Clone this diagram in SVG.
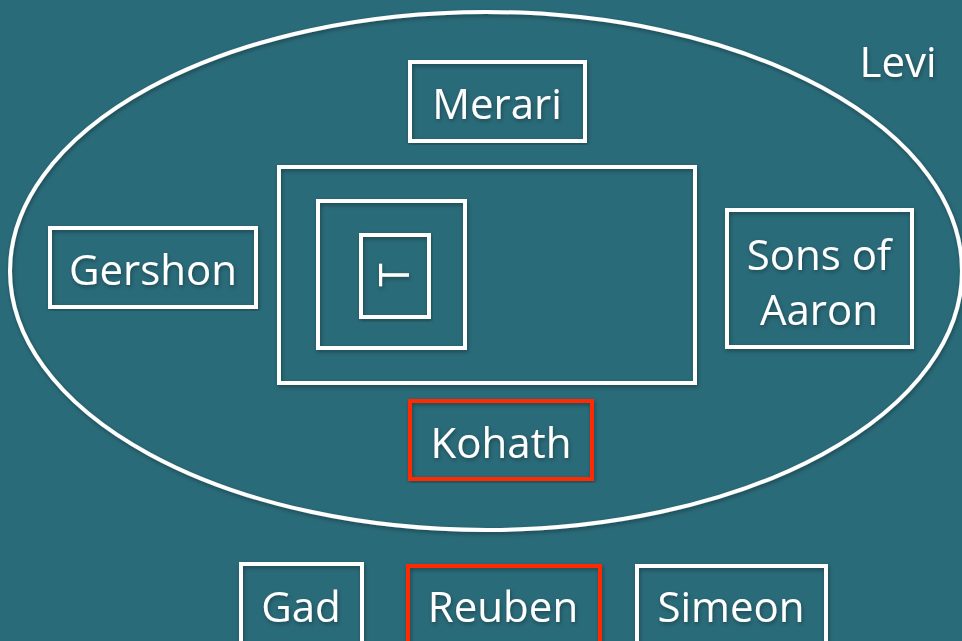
<svg xmlns="http://www.w3.org/2000/svg" width="962" height="641" viewBox="0 0 962 641">
<defs>
<style>
.b{fill:none;stroke:#ffffff;stroke-width:4}
.r{fill:none;stroke:#ff2a00;stroke-width:4}
.t{font-family:"Open Sans","Liberation Sans",sans-serif;font-size:42px;fill:#ffffff;text-anchor:middle}
</style>
<filter id="sh" x="-5%" y="-5%" width="110%" height="110%">
<feDropShadow dx="1" dy="2" stdDeviation="2" flood-color="#000000" flood-opacity="0.35"/>
</filter>
</defs>
<rect x="0" y="0" width="962" height="641" fill="#2a6b79"/>
<g id="levi" filter="url(#sh)">
<ellipse cx="486" cy="271" rx="476" ry="259" class="b"/>
<text x="898" y="77" class="t">Levi</text>
</g>
<g id="merari" filter="url(#sh)">
<rect x="410" y="62" width="175" height="79" class="b"/>
<text x="497" y="119" class="t">Merari</text>
</g>
<g id="court" filter="url(#sh)">
<rect x="279" y="167" width="416" height="216" class="b"/>
</g>
<g id="holy" filter="url(#sh)">
<rect x="318" y="201" width="147" height="147" class="b"/>
</g>
<g id="holiest" filter="url(#sh)">
<rect x="361" y="235" width="68" height="82" class="b"/>
<text x="0" y="0" class="t" font-size="38" transform="translate(409,275) rotate(-90)">T</text>
</g>
<g id="gershon" filter="url(#sh)">
<rect x="50" y="228" width="206" height="79" class="b"/>
<text x="153" y="285" class="t">Gershon</text>
</g>
<g id="aaron" filter="url(#sh)">
<rect x="727" y="210" width="185" height="137" class="b"/>
<text x="819" y="270" class="t">Sons of</text>
<text x="819" y="325" class="t">Aaron</text>
</g>
<g id="kohath" filter="url(#sh)">
<rect x="410" y="401" width="182" height="78" class="r"/>
<text x="501" y="458" class="t">Kohath</text>
</g>
<g id="gad" filter="url(#sh)">
<rect x="241" y="564" width="121" height="90" class="b"/>
<text x="301" y="622" class="t">Gad</text>
</g>
<g id="reuben" filter="url(#sh)">
<rect x="408" y="566" width="192" height="90" class="r"/>
<text x="503" y="622" class="t">Reuben</text>
</g>
<g id="simeon" filter="url(#sh)">
<rect x="637" y="566" width="189" height="90" class="b"/>
<text x="731" y="622" class="t">Simeon</text>
</g>
<g id="connectors"></g>
</svg>
